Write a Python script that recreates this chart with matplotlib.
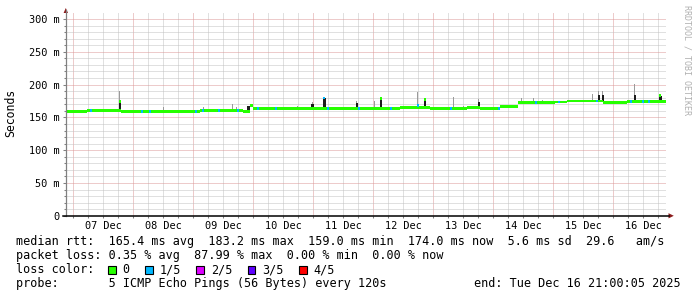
import matplotlib
matplotlib.use("Agg")
import matplotlib.pyplot as plt
import matplotlib.dates as mdates
from matplotlib.lines import Line2D
from matplotlib.patches import Rectangle, Polygon
from matplotlib.ticker import FixedLocator, FuncFormatter
import pandas as pd
import numpy as np

# ---------------- data ----------------
start_time = "2025-12-06 21:00"
end_time = "2025-12-16 21:00"

# median rtt (ms): level changes of the median line
seg_start = ["2025-12-06 21:00", "2025-12-07 05:30", "2025-12-07 19:00", "2025-12-09 02:40",
             "2025-12-09 19:50", "2025-12-09 22:40", "2025-12-09 23:50", "2025-12-12 10:40",
             "2025-12-12 22:40", "2025-12-13 13:30", "2025-12-13 18:30", "2025-12-14 02:40",
             "2025-12-14 09:50", "2025-12-15 00:40", "2025-12-15 05:30", "2025-12-15 19:50",
             "2025-12-16 05:30"]
seg_median = [159.0, 160.0, 159.2, 160.0,
              159.0, 167.5, 163.8, 164.6,
              163.2, 165.0, 164.2, 166.5,
              172.2, 173.5, 175.0, 172.5,
              173.8]

# smoke spikes: time, top of dense smoke (ms, 0 = none), top of light smoke (ms)
spike_time = ["2025-12-07 07:50", "2025-12-07 14:40", "2025-12-07 18:20", "2025-12-08 11:50",
              "2025-12-09 03:50", "2025-12-09 15:30", "2025-12-09 17:05", "2025-12-09 21:50",
              "2025-12-10 11:55", "2025-12-10 17:30", "2025-12-10 23:25", "2025-12-11 04:15",
              "2025-12-11 17:15", "2025-12-12 00:05", "2025-12-12 02:55", "2025-12-12 15:20",
              "2025-12-12 17:40", "2025-12-12 20:30", "2025-12-13 07:55", "2025-12-13 11:55",
              "2025-12-13 17:55", "2025-12-14 11:05", "2025-12-14 15:55", "2025-12-14 19:30",
              "2025-12-15 15:30", "2025-12-15 17:55", "2025-12-15 19:30", "2025-12-16 08:20",
              "2025-12-16 18:40"]
spike_dense = [0, 0, 174.0, 0,
               0, 0, 0, 168.0,
               0, 0, 170.0, 180.0,
               172.0, 0, 178.5, 0,
               170.0, 177.0, 0, 0,
               173.5, 0, 0, 0,
               0, 183.7, 183.7, 183.7,
               183.0]
spike_smoke = [163.0, 163.0, 190.0, 166.0,
               166.0, 171.0, 166.0, 168.0,
               166.0, 167.0, 174.0, 180.0,
               175.5, 175.5, 178.5, 168.0,
               189.0, 177.0, 181.0, 168.0,
               178.5, 179.0, 180.0, 177.0,
               186.0, 191.0, 191.0, 201.5,
               183.0]

# single samples where the median jumped up (ms) and their loss level
jump_time = ["2025-12-07 18:20", "2025-12-11 04:15", "2025-12-12 02:55", "2025-12-12 17:40",
             "2025-12-12 20:30", "2025-12-16 18:40"]
jump_median = [174.0, 179.5, 178.5, 167.5, 177.0, 183.0]
jump_loss = [0, 1, 0, 1, 0, 0]

# samples with 1/5 packet loss on the median line
loss_time = ["2025-12-07 06:40", "2025-12-08 03:05", "2025-12-08 06:20", "2025-12-09 00:40",
             "2025-12-09 03:30", "2025-12-09 09:55", "2025-12-09 17:30", "2025-12-10 01:30",
             "2025-12-10 08:40", "2025-12-11 05:30", "2025-12-11 17:55", "2025-12-12 06:40",
             "2025-12-13 06:40", "2025-12-14 01:55", "2025-12-14 16:40", "2025-12-15 01:55",
             "2025-12-15 17:05", "2025-12-16 06:40", "2025-12-16 11:30", "2025-12-16 13:55"]
loss_level = [1] * len(loss_time)

loss_labels = ["0", "1/5", "2/5", "3/5", "4/5"]
loss_colors = ["#26ff00", "#00b8ff", "#dd00ff", "#5e00ff", "#ff0000"]

rtt_values = ["165.4 ms avg", "183.2 ms max", "159.0 ms min", "174.0 ms now", "5.6 ms sd", "29.6   am/s"]
pl_values = ["0.35 % avg", "87.99 % max", "0.00 % min", "0.00 % now"]
probe_text = "5 ICMP Echo Pings (56 Bytes) every 120s"
end_text = "end: Tue Dec 16 21:00:05 2025"

y_ticks = [0, 50, 100, 150, 200, 250, 300]
y_max = 308.7

# ---------------- figure ----------------
W, H = 697, 297
MONO = "DejaVu Sans Mono"
fig = plt.figure(figsize=(W / 100, H / 100), dpi=100)
fig.patch.set_facecolor("white")


def fx(x):
    return x / W


def fy(y):
    return 1 - y / H


ax_l, ax_r, ax_t, ax_b = 65.8, 665.8, 13.3, 215.8
ax = fig.add_axes([fx(ax_l), fy(ax_b), (ax_r - ax_l) / W, (ax_b - ax_t) / H])
ax.set_facecolor("white")

t0 = mdates.date2num(pd.Timestamp(start_time))
t1 = mdates.date2num(pd.Timestamp(end_time))
ax.set_xlim(t0, t1)
ax.set_ylim(0, y_max)

px_day = 1.0 / 60.0  # one pixel in days (600 px = 10 days)

# grid
GRID_MINOR = "#c2c2c2"
GRID_MAJOR = "#dc9898"
six_h = pd.date_range(pd.Timestamp(start_time).ceil("6h"), end_time, freq="6h")
for t in six_h:
    major = t.hour == 0
    ax.axvline(mdates.date2num(t), color=GRID_MAJOR if major else GRID_MINOR,
               lw=0.72, ls=(0, (1, 1)), zorder=1)
for v in range(10, 301, 10):
    major = v % 50 == 0
    ax.axhline(v, color=GRID_MAJOR if major else GRID_MINOR,
               lw=0.72, ls=(0, (1, 1)), zorder=1)

# median series
med = pd.Series(seg_median, index=pd.to_datetime(seg_start))
xs = list(mdates.date2num(pd.to_datetime(seg_start))) + [t1]
vs = np.array(seg_median + [seg_median[-1]])
half = 2.2

# smoke
for t, dn, sm in zip(spike_time, spike_dense, spike_smoke):
    ts = pd.Timestamp(t)
    base = med.asof(ts)
    x = mdates.date2num(ts)
    ax.bar(x, sm - base, bottom=base, width=px_day, color="#9a9a9a", lw=0,
           align="edge", zorder=2)
    if dn > 0:
        ax.bar(x - px_day * 0.5, dn - base, bottom=base, width=2.2 * px_day,
               color="#1c1c1c", lw=0, align="edge", zorder=2.5)

# median line band
ax.fill_between(xs, vs - half, vs + half, step="post", color=loss_colors[0],
                lw=0, zorder=3)

# loss-coloured samples
for t, lv in zip(loss_time, loss_level):
    ts = pd.Timestamp(t)
    base = med.asof(ts)
    x = mdates.date2num(ts)
    ax.fill_between([x, x + 2 * px_day], base - half, base + half,
                    color=loss_colors[lv], lw=0, zorder=3.5)

# median jumps
for t, m, lv in zip(jump_time, jump_median, jump_loss):
    x = mdates.date2num(pd.Timestamp(t))
    ax.fill_between([x - px_day * 0.5, x + px_day * 1.5], m - half, m + half,
                    color=loss_colors[lv], lw=0, zorder=4)

# ticks
noon = pd.date_range(pd.Timestamp(start_time).ceil("D") + pd.Timedelta("12h"), end_time, freq="D")
ax.xaxis.set_major_locator(FixedLocator(mdates.date2num(noon)))
ax.xaxis.set_major_formatter(FuncFormatter(lambda v, p: mdates.num2date(v).strftime("%d %b")))
minor_x = [mdates.date2num(t) for t in six_h if t.hour != 12]
ax.xaxis.set_minor_locator(FixedLocator(minor_x))
ax.yaxis.set_major_locator(FixedLocator(y_ticks))
ax.yaxis.set_major_formatter(FuncFormatter(lambda v, p: "0" if v == 0 else f"{v:.0f} m"))
ax.yaxis.set_minor_locator(FixedLocator([v for v in range(10, 301, 10) if v % 50]))
ax.tick_params(axis="both", which="both", direction="out", color="#808080", width=0.75)
ax.tick_params(axis="x", which="both", length=1.6, pad=1.8, labelsize=7.4)
ax.tick_params(axis="y", which="major", length=2.2, pad=2.0, labelsize=7.4)
ax.tick_params(axis="y", which="minor", length=1.5)
for lab in ax.get_xticklabels() + ax.get_yticklabels():
    lab.set_fontfamily(MONO)

for s in ax.spines.values():
    s.set_visible(False)

# axes lines and arrows
fig.add_artist(Line2D([fx(ax_l), fx(ax_l)], [fy(ax_b), fy(10)], color="#808080", lw=0.9))
fig.add_artist(Line2D([fx(62.5), fx(669)], [fy(ax_b), fy(ax_b)], color="black", lw=1.1))
fig.add_artist(Polygon([[fx(63.6), fy(13.0)], [fx(68.0), fy(13.0)], [fx(65.8), fy(8.0)]],
                       closed=True, color="#8b1a1a", lw=0))
fig.add_artist(Polygon([[fx(668.5), fy(ax_b - 2.6)], [fx(668.5), fy(ax_b + 2.6)], [fx(673.8), fy(ax_b)]],
                       closed=True, color="#8b1a1a", lw=0))

# y label and watermark
fig.text(fx(11), fy(113), "Seconds", rotation=90, ha="center", va="center",
         fontsize=8.3, family=MONO)
fig.text(fx(686.5), fy(60), "RRDTOOL / TOBI OETIKER", rotation=270, ha="center", va="center",
         fontsize=6.0, family=MONO, color="#b0b0b0")

# legend text
LS = 8.5
lx = fx(16)
line1 = "median rtt:  " + "  ".join(rtt_values)
line2 = "packet loss: " + "  ".join(pl_values)
line4 = "probe:       " + probe_text
fig.text(lx, fy(245.3), line1, fontsize=LS, family=MONO, va="baseline")
fig.text(lx, fy(259.3), line2, fontsize=LS, family=MONO, va="baseline")
fig.text(lx, fy(273.3), "loss color:", fontsize=LS, family=MONO, va="baseline")
fig.text(lx, fy(287.3), line4, fontsize=LS, family=MONO, va="baseline")
fig.text(fx(681), fy(287.3), end_text, fontsize=LS, family=MONO, va="baseline", ha="right")

cw = 7.1
bx = 108.3
for lab, col in zip(loss_labels, loss_colors):
    fig.add_artist(Rectangle((fx(bx), fy(273.6)), 7.6 / W, 7.6 / H, facecolor=col,
                             edgecolor="black", lw=0.8))
    fig.text(fx(bx + 14.3), fy(273.3), lab, fontsize=LS, family=MONO, va="baseline")
    bx = bx + 14.3 + len(lab) * cw + 15.6

fig.savefig("out.png", dpi=100, facecolor="white")
